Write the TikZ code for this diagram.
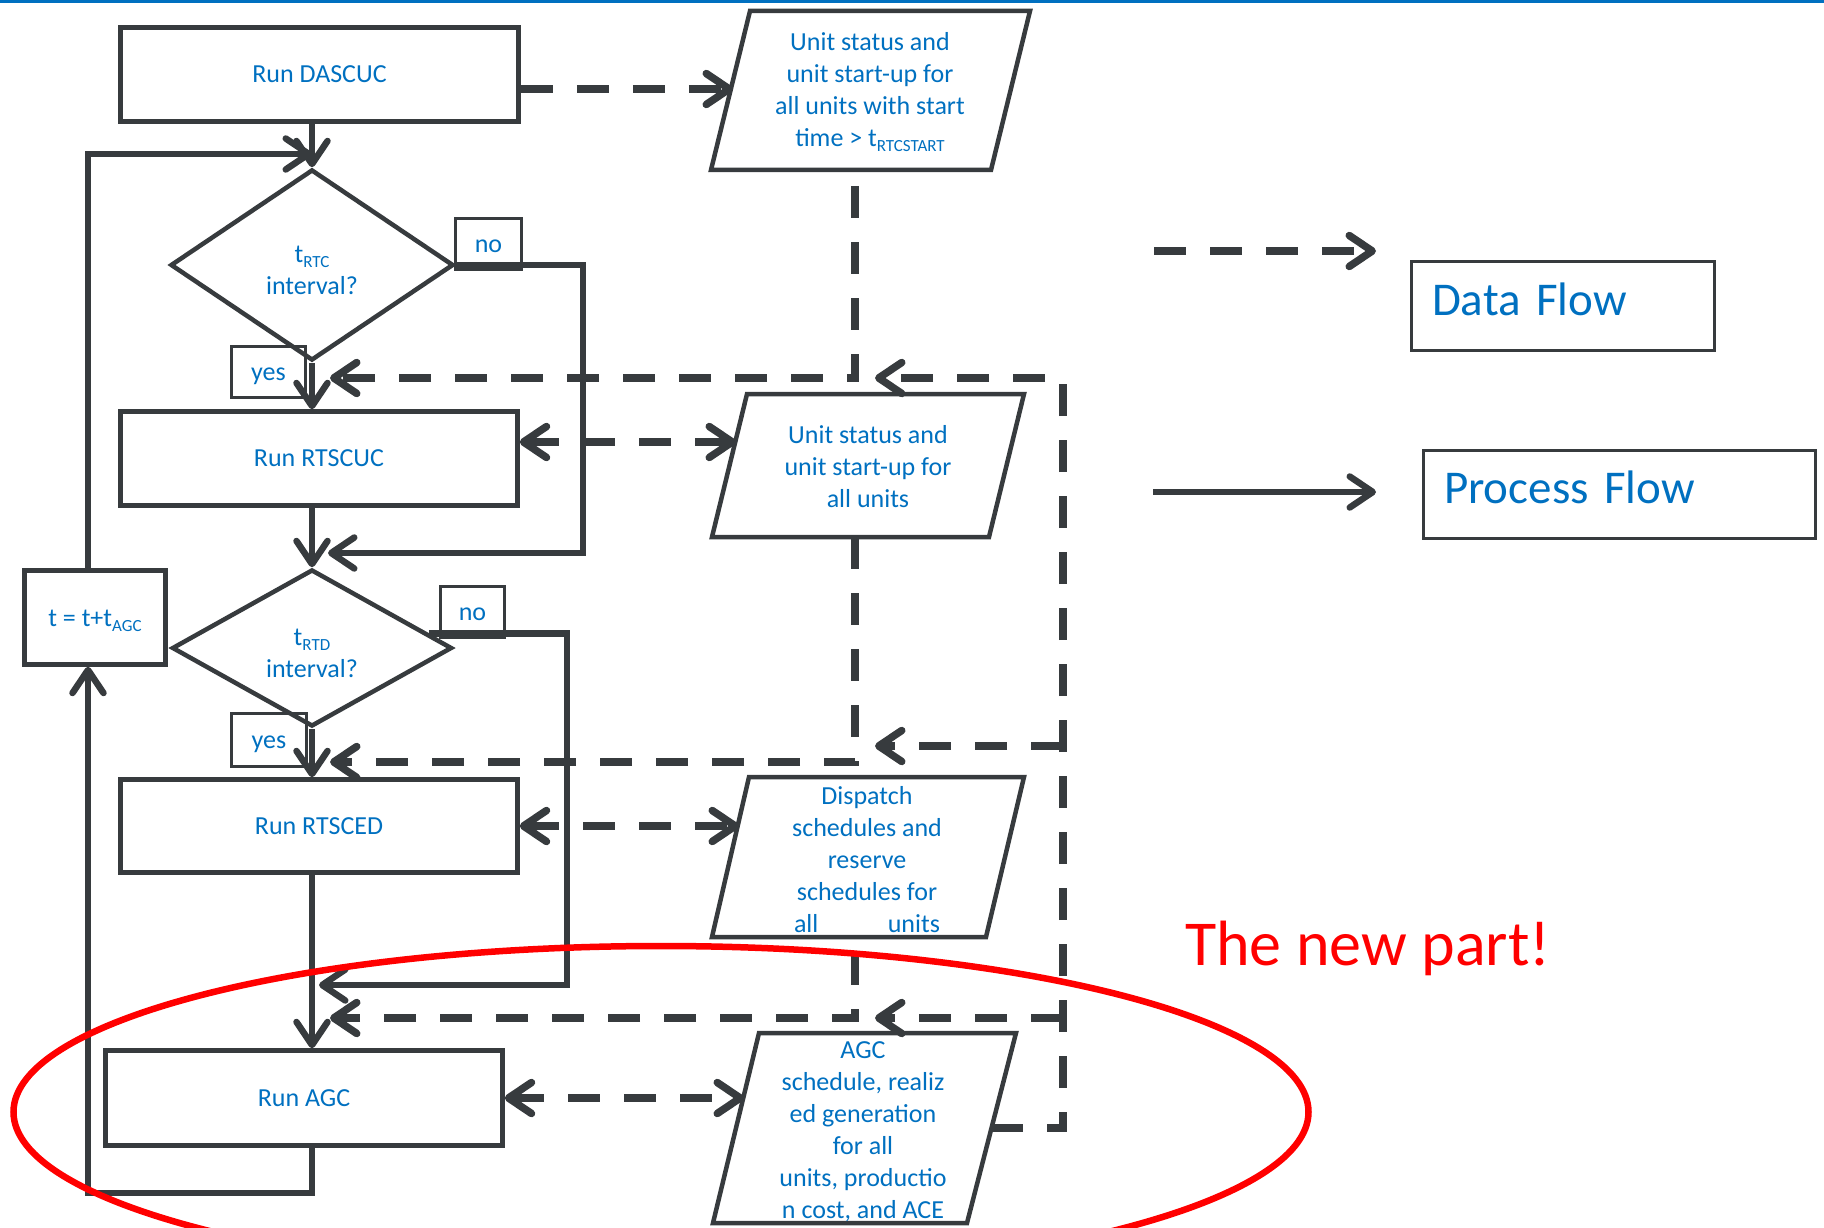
\documentclass[tikz,border=0pt]{standalone}
\usepackage{fontspec}
\setmainfont{Carlito}
\usetikzlibrary{arrows.meta,shapes.geometric,calc}
\definecolor{ink}{RGB}{55,59,62}
\definecolor{txtblue}{RGB}{0,112,192}
\definecolor{hilite}{RGB}{255,0,0}
% lowered, smaller index text (t_RTC, t_AGC, ...)
\newcommand\lowsub[1]{\raisebox{-5pt}{\fontsize{17}{17}\selectfont #1}}

\begin{document}
\begin{tikzpicture}[x=1pt,y=-1pt,
  chev/.tip={Straight Barb[length=23pt,width=31pt,round]},
  txt/.style={text=txtblue,font=\fontsize{26}{32}\selectfont,inner sep=0pt,align=center},
  procbox/.style={txt,draw=ink,line width=4.5pt},
  decision/.style={txt,diamond,aspect=2,draw=ink,line width=4.5pt},
  tag/.style={txt,draw=ink,line width=2.5pt,text height=20pt,text depth=4pt},
  databorder/.style={draw=ink,line width=4.5pt},
  legendbox/.style={draw=ink,line width=3pt,text=txtblue,font=\fontsize{47}{56}\selectfont,
    align=left,inner sep=0pt,text height=31pt,text depth=13pt},
  procflow/.style={draw=ink,line width=6.5pt,-chev},
  dataflow/.style={draw=ink,line width=7.5pt,dash pattern=on 32pt off 24pt,-chev},
  databoth/.style={dataflow,chev-chev},
]
\useasboundingbox (0,0) rectangle (1824,1228);
\clip (0,0) rectangle (1824,1228);

% header rule
\draw[txtblue,line width=3.5pt] (0,1.5) -- (1824,1.5);

% ---------------- process column ----------------
\node[procbox,minimum width=398pt,minimum height=94pt] (dascuc) at (319.5,74.5) {Run DASCUC};
\node[decision,minimum width=283pt,minimum height=191pt] (rtc) at (312,265) {t\lowsub{RTC}\rule{0pt}{27pt}\\interval?};
\node[procbox,minimum width=397pt,minimum height=94pt] (rtscuc) at (319,458.5) {Run RTSCUC};
\node[decision,minimum width=280pt,minimum height=157pt] (rtd) at (312,648) {t\lowsub{RTD}\rule{0pt}{27pt}\\interval?};
\node[procbox,minimum width=397pt,minimum height=93pt] (rtsced) at (319,826) {Run RTSCED};
\node[procbox,minimum width=397pt,minimum height=95pt] (agc) at (304,1098) {Run AGC};
\node[procbox,minimum width=141pt,minimum height=94pt,text height=22pt,text depth=4pt] (tstep) at (95,617.5) {t = t+t\lowsub{AGC}};

\node[tag,minimum width=66pt,minimum height=51pt] (no1) at (488.5,244) {no};
\node[tag,minimum width=74pt,minimum height=51pt] (yes1) at (268.5,372) {yes};
\node[tag,minimum width=64pt,minimum height=51pt] (no2) at (472.5,612) {no};
\node[tag,minimum width=75pt,minimum height=53pt] (yes2) at (269,740) {yes};

% ---------------- data blocks ----------------
\coordinate (p1a) at (750,11);   \coordinate (p1b) at (1030,11);
\coordinate (p1c) at (991,170);  \coordinate (p1d) at (711,170);
\draw[databorder] (p1a) -- (p1b) -- (p1c) -- (p1d) -- cycle;
\node[txt] (p1) at (870,92) {Unit status and\\unit start-up for\\all units with start\\time > t\lowsub{RTCSTART}};

\coordinate (p2a) at (747,394);  \coordinate (p2b) at (1024,394);
\coordinate (p2c) at (989,537);  \coordinate (p2d) at (712,537);
\draw[databorder] (p2a) -- (p2b) -- (p2c) -- (p2d) -- cycle;
\node[txt] (p2) at (868,467) {Unit status and\\unit start-up for\\all units};

\coordinate (p3a) at (749,777);  \coordinate (p3b) at (1024,777);
\coordinate (p3c) at (986,937);  \coordinate (p3d) at (712,937);
\draw[databorder] (p3a) -- (p3b) -- (p3c) -- (p3d) -- cycle;
\node[txt] (p3) at (867,860) {Dispatch\\schedules and\\reserve\\schedules for\\\makebox[146pt]{all\hfill units}};

\coordinate (p4a) at (759,1033); \coordinate (p4b) at (1016,1033);
\coordinate (p4c) at (967,1223); \coordinate (p4d) at (713,1223);
\draw[databorder] (p4a) -- (p4b) -- (p4c) -- (p4d) -- cycle;
\node[txt] (p4) at (863,1132) {AGC\\schedule, realiz\\ed generation\\for all\\units, productio\\n cost, and ACE};

% ---------------- process flow ----------------
\coordinate (loopx) at (88,0);
\coordinate (toprun) at (88,154);
\coordinate (bottomrun) at (88,1193);
\coordinate (nojoin1) at (583,553);
\coordinate (tip1) at (328,553);
\coordinate (nojoin2) at (567,985);
\coordinate (tip2) at (319,985);

\draw[procflow] (dascuc.south -| rtc.north) -- (rtc.north);
\draw[procflow] (rtc.south) -- (rtc.south |- rtscuc.north);
\draw[procflow] (rtscuc.south -| rtd.north) -- (rtd.north);
\draw[procflow] (rtd.south) -- (rtd.south |- rtsced.north);
\draw[procflow] (rtsced.south -| rtd.south) -- (agc.north -| rtd.south);
\draw[procflow] (rtc.east) -| (nojoin1) -- (tip1);
\draw[procflow] (rtd.7) -| (nojoin2) -- (tip2);
\draw[procflow] (agc.south -| rtd.south) |- (bottomrun) -- (tstep.south -| loopx);
\draw[procflow] (tstep.north -| loopx) |- (rtc.north |- toprun);

% ---------------- data flow ----------------
\coordinate (p1in) at (733,89);
\coordinate (p2in) at (736,442);
\coordinate (p3in) at (739,826);
\coordinate (p4in) at (744,1098);
\draw[dataflow] (dascuc.east |- p1in) -- (p1in);
\draw[databoth] (rtscuc.east |- p2in) -- (p2in);
\draw[databoth] (rtsced.east |- p3in) -- (p3in);
\draw[databoth] (agc.east |- p4in) -- (p4in);

\coordinate (p1out) at (855,170);
\coordinate (p2out) at (855,537);
\coordinate (p3out) at (855,937);
\coordinate (dtip1) at (330,378);
\coordinate (dtip2) at (330,762);
\coordinate (dtip3) at (330,1018);
\draw[dataflow,dash phase=40pt] (p1out) |- (dtip1);
\draw[dataflow] (p2out) |- (dtip2);
\draw[dataflow,dash phase=40pt] (p3out) |- (dtip3);

\coordinate (p4out) at (991,1128);
\coordinate (retx) at (1063,1128);
\coordinate (rtip1) at (875,378);
\coordinate (rtip2) at (875,746);
\coordinate (rtip3) at (875,1018);
\draw[dataflow] (p4out) -- (retx) |- (rtip1);
\draw[dataflow] (rtip2 -| retx) -- (rtip2);
\draw[dataflow] (rtip3 -| retx) -- (rtip3);

% ---------------- legend ----------------
\coordinate (lgd1) at (1154,251); \coordinate (lgd2) at (1376,251);
\coordinate (lgp1) at (1153,492); \coordinate (lgp2) at (1376,492);
\draw[dataflow] (lgd1) -- (lgd2);
\draw[procflow] (lgp1) -- (lgp2);
\node[legendbox,minimum width=303pt,minimum height=89pt,text width=262pt] (kdata) at (1563,306) {Data Flow};
\node[legendbox,minimum width=392pt,minimum height=88pt,text width=351pt] (kproc) at (1619.5,494.5) {Process Flow};

% ---------------- highlight ----------------
\node[anchor=base west,inner sep=0pt,text=hilite,font=\fontsize{64}{70}\selectfont] (newpart) at (1185,965) {The new part!};
\draw[hilite,line width=6.5pt] (661,1112) ellipse [x radius=647.5pt,y radius=166pt];
\end{tikzpicture}
\end{document}
